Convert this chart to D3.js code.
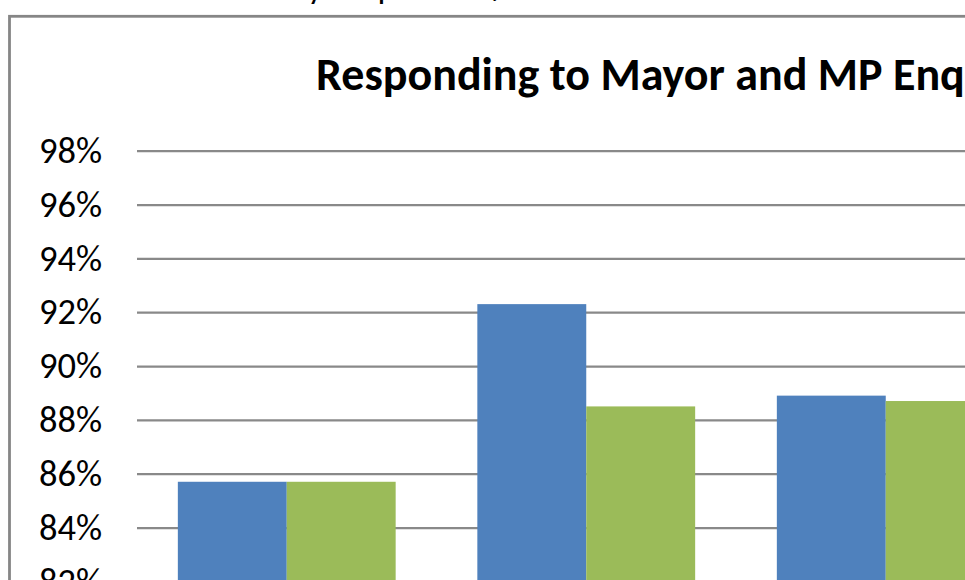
<!DOCTYPE html>
<html>
<head>
<meta charset="utf-8">
<script src="https://cdn.jsdelivr.net/npm/d3@7"></script>
<style>
  html, body { margin: 0; padding: 0; background: #ffffff; }
  svg { display: block; }
</style>
</head>
<body>
<div id="chart"></div>
<script>
// ---- data ----
const categories = ["Period 1", "Period 2", "Period 3"];
const seriesNames = ["Series 1", "Series 2"];
const seriesA = [85.7, 92.3, 88.9];   // blue
const seriesB = [85.7, 88.5, 88.7];   // green
const yTicks = [82, 84, 86, 88, 90, 92, 94, 96, 98];
const titleText = "Responding to Mayor and MP Enquiries";
const captionText = "Table 4: MP and Mayor Enquiries 2011/12";

const colors = ["#4F81BD", "#9BBB59"];
const W = 965, H = 580;

const svg = d3.select("#chart").append("svg")
  .attr("width", W).attr("height", H);

svg.append("rect").attr("width", W).attr("height", H).attr("fill", "#fff");

// caption above the frame (mostly cut off by the top edge)
svg.append("text")
  .attr("x", 112).attr("y", 0)
  .attr("font-family", "Carlito, Lato, sans-serif")
  .attr("font-weight", "bold")
  .attr("font-size", 24)
  .attr("fill", "#000")
  .text(captionText);

// chart frame
svg.append("rect")
  .attr("x", 9.5).attr("y", 16.3)
  .attr("width", 1200).attr("height", 800)
  .attr("fill", "#fff")
  .attr("stroke", "#868686")
  .attr("stroke-width", 2.8);

// scales
const plotLeft = 137;
const step = 299.5;
const x = d3.scaleBand()
  .domain(categories)
  .range([plotLeft, plotLeft + step * categories.length])
  .padding(0);
const gapRatio = 0.75;
const barW = x.step() / (seriesNames.length + gapRatio);
const xInner = d3.scaleBand()
  .domain(seriesNames)
  .range([barW * gapRatio / 2, barW * gapRatio / 2 + barW * seriesNames.length])
  .padding(0);

const y = d3.scaleLinear().domain([80, 98]).range([635.2, 150.7]);

// gridlines
const yAxis = d3.axisLeft(y)
  .tickValues(yTicks)
  .tickSize(-(step * categories.length))
  .tickPadding(35)
  .tickFormat(d => d + "%");

const gAxis = svg.append("g")
  .attr("transform", `translate(${plotLeft},0)`)
  .call(yAxis);
gAxis.select(".domain").remove();
gAxis.selectAll(".tick line")
  .attr("stroke", "#898989")
  .attr("stroke-width", 2.2);
gAxis.selectAll(".tick text")
  .attr("font-family", "Carlito, Lato, sans-serif")
  .attr("font-size", 36.5)
  .attr("fill", "#000");

// bars
const rows = categories.map((c, i) => ({ cat: c, vals: [seriesA[i], seriesB[i]] }));
const groups = svg.append("g").selectAll("g")
  .data(rows).join("g")
  .attr("transform", d => `translate(${x(d.cat)},0)`);

groups.selectAll("rect")
  .data(d => d.vals.map((v, j) => ({ name: seriesNames[j], v, j })))
  .join("rect")
  .attr("x", d => xInner(d.name))
  .attr("width", xInner.bandwidth())
  .attr("y", d => y(d.v))
  .attr("height", d => y(80) - y(d.v))
  .attr("fill", d => colors[d.j]);

// title, sized so that "Responding to Mayor and MP Enq" spans ~647px
const title = svg.append("text")
  .attr("x", 316).attr("y", 90)
  .attr("font-family", "Carlito, Lato, sans-serif")
  .attr("font-weight", "bold")
  .attr("font-size", 36)
  .attr("fill", "#000")
  .text(titleText);
try {
  const n = "Responding to Mayor and MP Enq".length;
  const w = title.node().getSubStringLength(0, n);
  if (w > 0) title.attr("font-size", 36 * 649 / w);
} catch (e) {}
</script>
</body>
</html>
